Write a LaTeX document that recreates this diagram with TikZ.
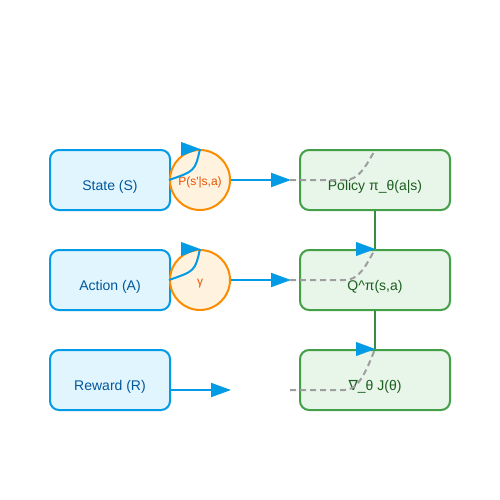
\documentclass[tikz,border=0pt]{standalone}
\usepackage{fontspec}
\newfontfamily\lib{Liberation Sans}
\newfontfamily\dvs{DejaVu Sans}
\usetikzlibrary{arrows.meta}
\definecolor{bstroke}{HTML}{039BE5}
\definecolor{bfill}{HTML}{E1F5FE}
\definecolor{btext}{HTML}{01579B}
\definecolor{gstroke}{HTML}{43A047}
\definecolor{gfill}{HTML}{E8F5E9}
\definecolor{gtext}{HTML}{1B5E20}
\definecolor{gline}{HTML}{388E3C}
\definecolor{ostroke}{HTML}{FB8C00}
\definecolor{ofill}{HTML}{FFF3E0}
\definecolor{otext}{HTML}{E65100}
\definecolor{dgrey}{HTML}{9E9E9E}
\tikzset{
  lbox/.style={draw=bstroke, fill=bfill, line width=2pt, rounded corners=9pt,
    minimum width=120pt, minimum height=60pt, inner sep=0pt, text=btext,
    font=\lib\fontsize{14}{16}\selectfont, text height=20pt, text depth=0pt},
  rbox/.style={draw=gstroke, fill=gfill, line width=2pt, rounded corners=9pt,
    minimum width=150pt, minimum height=60pt, inner sep=0pt, text=gtext,
    font=\lib\fontsize{14}{16}\selectfont, text height=20pt, text depth=0pt},
  circ/.style={circle, draw=ostroke, fill=ofill, line width=2pt,
    minimum size=60pt, inner sep=0pt, text=otext,
    font=\lib\fontsize{12}{14}\selectfont, text height=10pt, text depth=0pt},
  bline/.style={draw=bstroke, line width=2pt},
  barrow/.style={draw=bstroke, line width=2pt, -{Triangle[length=20pt,width=14pt]}},
  btip/.style={draw=bstroke, fill=bstroke, line width=0.1pt, -{Triangle[length=19pt,width=14pt]}},
  dline/.style={draw=dgrey, line width=2pt, dash pattern=on 6pt off 4pt},
  gconn/.style={draw=gline, line width=2pt},
}
\begin{document}
\begin{tikzpicture}[x=1pt,y=-1pt]
\useasboundingbox (0,0) rectangle (500,500);
\fill[white] (0,0) rectangle (500,500);

\node[lbox] (S) at (110,180) {State (S)};
\node[lbox] (A) at (110,280) {Action (A)};
\node[lbox] (R) at (110,380) {Reward (R)};
\node[circ] (P) at (200,180) {P(s'|s,a)};
\node[circ] (G) at (200,280) {γ};
\node[rbox] (Pi) at (375,180) {Policy π\_θ(a|s)};
\node[rbox] (Q) at (375,280) {Q\^{}π(s,a)};
\node[rbox] (J) at (375,380) {{\dvs ∇}\_θ J(θ)};

\coordinate (t1) at (291,180);
\coordinate (t2) at (291,280);
\coordinate (r3s) at (170,390);
\coordinate (t3) at (231,390);
\coordinate (d1) at (290,180);
\coordinate (d2) at (290,280);
\coordinate (d3) at (290,390);
\coordinate (e1) at (375,150);

% straight arrows
\draw[barrow] (P.east) -- (t1);
\draw[barrow] (G.east) -- (t2);
\draw[barrow] (r3s) -- (t3);

% loops on circles
\draw[bline] (P.west) .. controls (195,171) .. (P.north);
\draw[btip] ([xshift=-1pt]P.north) -- (P.north);
\draw[bline] (G.west) .. controls (195,271) .. (G.north);
\draw[btip] ([xshift=-1pt]G.north) -- (G.north);

% dashed curves
\draw[dline] (d1) -- (345,180) .. controls (358,180) and (365,168) .. (e1);
\draw[dline] (d2) -- (345,280) .. controls (358,280) and (365,268) .. (Q.north);
\draw[dline] (d3) -- (345,390) .. controls (358,390) and (366,372) .. (J.north);

% vertical green connectors
\draw[gconn] (Pi.south) -- (Q.north);
\draw[gconn] (Q.south) -- (J.north);
\draw[btip] ([xshift=-1pt]Q.north) -- (Q.north);
\draw[btip] ([xshift=-1pt]J.north) -- (J.north);
\end{tikzpicture}
\end{document}
